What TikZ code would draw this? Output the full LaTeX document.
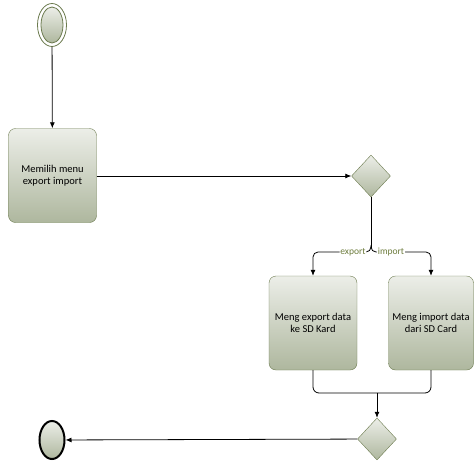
\documentclass[tikz,border=0pt]{standalone}
\usepackage{fontspec}
\setmainfont{Carlito}
\usetikzlibrary{shapes.geometric,arrows.meta}
\definecolor{umlborder}{HTML}{6B7A4E}
\definecolor{umltop}{HTML}{ECEEE8}
\definecolor{umlbot}{HTML}{AEB79E}
\definecolor{umllabel}{HTML}{6E7D3E}
\tikzset{
  act/.style={draw=umlborder, rounded corners=7pt, top color=umltop, bottom color=umlbot,
    minimum width=88pt, minimum height=94pt, align=center, inner sep=2pt,
    font=\fontsize{10.5}{12.5}\selectfont},
  decision/.style={diamond, draw=umlborder, top color=umltop, bottom color=umlbot,
    minimum width=39pt, minimum height=42pt, inner sep=0pt},
  flow/.style={line width=0.8pt, -{Latex[length=6pt,width=5pt]}},
  guard/.style={fill=white, text=umllabel, inner sep=1pt, font=\fontsize{9.5}{10}\selectfont}
}
\begin{document}
\begin{tikzpicture}[x=1pt,y=1pt]
  \useasboundingbox (0,0) rectangle (474,-461);
  % start and end
  \node[ellipse, draw=umlborder, line width=0.8pt, minimum width=29pt, minimum height=43pt] (start) at (52,-25) {};
  \node[ellipse, draw=umlborder, line width=0.8pt, top color=umltop, bottom color=umlbot,
    minimum width=22pt, minimum height=36pt] (startin) at (52,-25) {};
  \node[ellipse, draw=black, line width=2pt, top color=umltop, bottom color=umlbot,
    minimum width=25pt, minimum height=38pt] (end) at (52,-440) {};
  % activities
  \node[act] (pilih) at (52.5,-175.5) {Memilih menu\\export import};
  \node[act] (export) at (313,-323) {Meng export data\\ke SD Kard};
  \node[act, minimum width=85pt] (import) at (431,-323) {Meng import data\\dari SD Card};
  % decisions
  \node[decision] (pilihan) at (371,-176) {};
  \node[decision] (gabung) at (377,-439) {};
  \coordinate (split) at (371,-252);
  \coordinate (join) at (377,-393);
  % flows
  \draw[flow] (start) -- (pilih);
  \draw[flow] (pilih.east |- pilihan) -- (pilihan);
  \draw[line width=0.8pt] (pilihan.south) -- ([yshift=4pt]split);
  \draw[flow, rounded corners=5pt] ([yshift=4pt]split) |- ([xshift=-18pt]split)
    node[guard] {export} -| (export.north);
  \draw[flow, rounded corners=5pt] ([yshift=4pt]split) |- ([xshift=20pt]split)
    node[guard] {import} -| (import.north);
  \draw[line width=0.8pt, rounded corners=6pt] (export.south) |- (join);
  \draw[line width=0.8pt, rounded corners=6pt] (import.south) |- (join);
  \draw[flow] (join) -- (gabung);
  \draw[flow] (gabung) -- (end);
\end{tikzpicture}
\end{document}
